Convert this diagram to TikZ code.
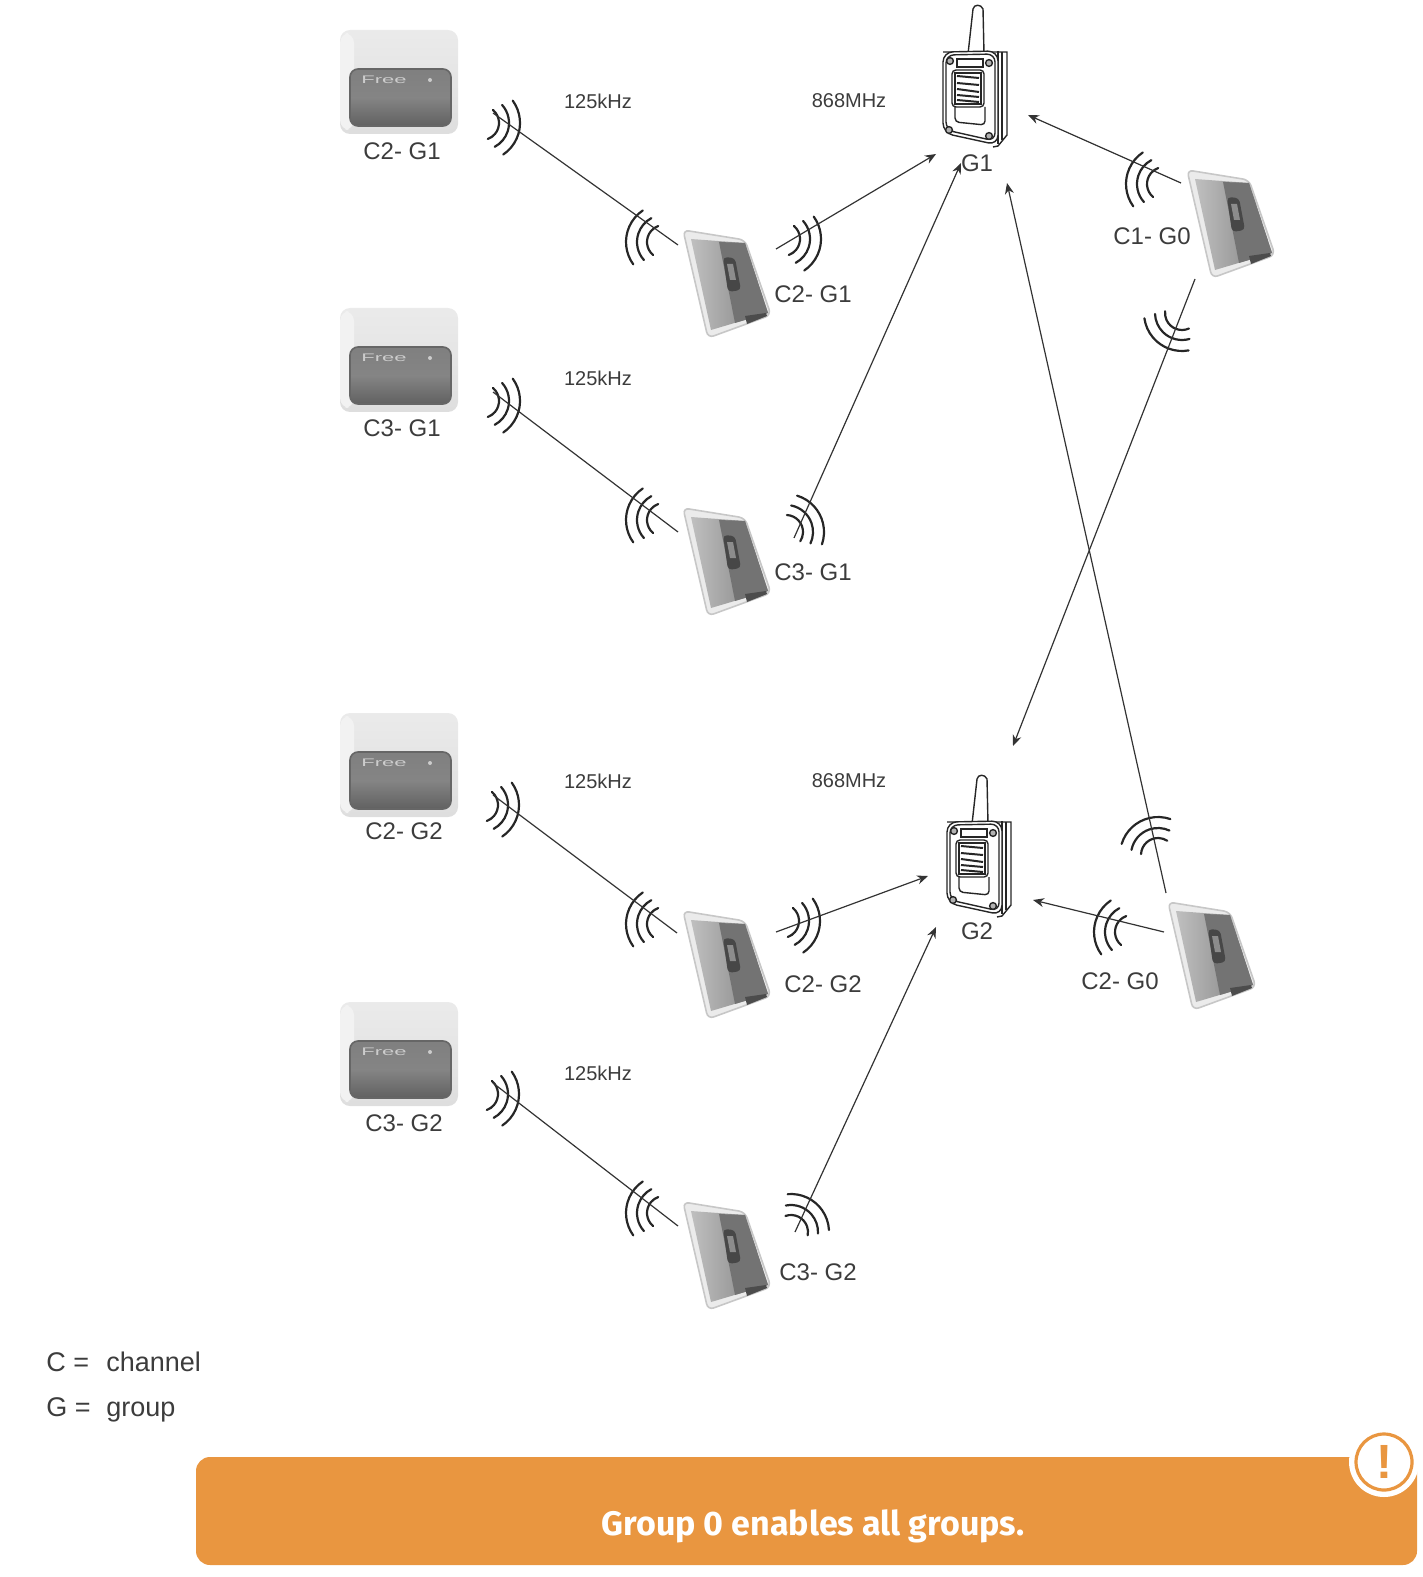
\documentclass[tikz,border=0pt]{standalone}
\usepackage{fontspec}
\setmainfont{Liberation Sans}
\newfontfamily\bannerfont{Fira Sans}
\usetikzlibrary{arrows, arrows.meta, shapes, positioning}

\definecolor{bannerorange}{HTML}{E99640}
\definecolor{inkgray}{HTML}{3C3C3C}

\tikzset{
    tag/.style={font=\fontsize{12}{14}\selectfont, text=inkgray, inner sep=0pt},
    freq/.style={font=\fontsize{10}{12}\selectfont, text=inkgray, inner sep=0pt},
    legend/.style={font=\fontsize{13.5}{16}\selectfont, text=inkgray, inner sep=0pt, anchor=base west},
    link/.style={draw=black!80, line width=0.6pt},
    arrowlink/.style={link, -{Stealth[length=5.5pt, width=4.5pt]}},
    wave/.style={draw=black!85, line width=1.1pt, line cap=round},
    outline/.style={draw=black!85, line width=0.7pt},
    keypad/.pic={
        \shade[rounded corners=5pt, top color=black!8, bottom color=black!13] (0,0) rectangle (118,-104);
        \fill[rounded corners=5pt, black!5] (0,-3) rectangle (14,-100);
        \shade[rounded corners=4pt, top color=black!50, bottom color=black!62, middle color=black!48, draw=black!60, line width=0.8pt] (10,-39) rectangle (111,-96);
        \node[text=black!20, font=\fontsize{5.5}{6}\selectfont, xscale=2, inner sep=0pt] (-logo) at (44,-50) {Free};
        \fill[black!20] (90,-50) circle (1pt);
    },
    receiver/.pic={
        \filldraw[rounded corners=3pt, fill=black!8, draw=black!22, line width=0.8pt] (0,0) -- (62,-10) -- (88,-85) -- (25,-108) -- cycle;
        \shade[left color=black!25, right color=black!50] (8,-9) -- (62,-13) -- (85,-83) -- (28,-100) -- cycle;
        \fill[black!55] (36,-12) -- (62,-13) -- (85,-83) -- (52,-93) -- cycle;
        \fill[black!70] (62,-86) -- (83,-83) -- (84,-86) -- (64,-94) -- cycle;
        \fill[rounded corners=2pt, black!72] (40,-27) -- (52,-28) -- (58,-60) -- (45,-62) -- cycle;
        \fill[black!45] (44,-34) -- (50,-34) -- (53,-50) -- (47,-50) -- cycle;
    },
    waves/.pic={
        \draw[wave] (46:19pt) arc [start angle=46, end angle=-46, radius=19pt];
        \draw[wave] (52:13.5pt) arc [start angle=52, end angle=-52, radius=13.5pt];
        \draw[wave] (60:8.5pt) arc [start angle=60, end angle=-60, radius=8.5pt];
    },
    gateway/.pic={
        % antenna
        \draw[outline, fill=white] (25,-2) -- (30,43) .. controls (31,48) and (38,48) .. (40,43) -- (41,-2);
        % back edge of the case
        \draw[outline] (0,0) -- (64,0) -- (64,-83) -- (55,-94) -- (50,-95);
        \draw[outline] (55,1) -- (55,-92);
        \draw[outline] (59,0) -- (59,-88);
        % front of the case
        \draw[outline, rounded corners=5pt, fill=white] (0,0) -- (55,1) -- (55,-93) -- (0,-81) -- cycle;
        \draw[outline, rounded corners=4pt] (3,-3) -- (52,-2) -- (52,-89) -- (3,-78) -- cycle;
        \filldraw[outline, fill=gray!60] (7,-9) circle (1.7pt);
        \filldraw[outline, fill=gray!60] (46,-11) circle (1.7pt);
        \filldraw[outline, fill=gray!60] (6,-78) circle (1.7pt);
        \filldraw[outline, fill=gray!60] (46,-84) circle (1.7pt);
        % slot, grille and window
        \draw[outline] (14,-7) rectangle (40,-15);
        \draw[outline, rounded corners=2pt] (9,-18) rectangle (41,-55);
        \draw[outline] (12,-21) rectangle (38,-52);
        \draw[black!85, line width=1pt] (14,-24) -- (36,-26);
        \draw[black!85, line width=1pt] (14,-31) -- (36,-33);
        \draw[black!85, line width=1pt] (14,-37) -- (36,-40);
        \draw[black!85, line width=1pt] (14,-43) -- (36,-45);
        \draw[black!85, line width=1pt] (14,-48) -- (36,-50);
        \draw[outline, rounded corners=2pt] (12,-55) -- (12,-70) -- (42,-73) -- (42,-55);
    },
}

\begin{document}
\begin{tikzpicture}[x=0.5pt, y=0.5pt]
    \useasboundingbox (0,0) rectangle (1422,-1577);

    % first row, C2 G1
    \pic (pa) at (340,-30) {keypad};
    \node[tag] (pat) at (402,-151) {C2- G1};
    \node[freq] (fa) at (598,-101) {125kHz};
    \pic (wa) [rotate=-10] at (482,-123) {waves};
    \pic (wb) [rotate=170] at (664,-242) {waves};
    \pic (ra) at (683,-230) {receiver};
    \node[tag] (rat) at (813,-294) {C2- G1};
    \pic (wc) [rotate=-10] at (783,-239) {waves};
    \coordinate (a1) at (493,-113);
    \coordinate (a2) at (678,-245);
    \coordinate (a3) at (776,-249);
    \coordinate (a4) at (936,-154);
    \draw[link] (a1) -- (a2);
    \draw[arrowlink] (a3) -- (a4);

    % second row, C3 G1
    \pic (pb) at (340,-308) {keypad};
    \node[tag] (pbt) at (402,-428) {C3- G1};
    \node[freq] (fb) at (598,-378) {125kHz};
    \pic (wd) [rotate=-10] at (482,-401) {waves};
    \pic (we) [rotate=170] at (664,-520) {waves};
    \pic (rb) at (683,-508) {receiver};
    \node[tag] (rbt) at (813,-572) {C3- G1};
    \pic (wf) [rotate=27] at (786,-532) {waves};
    \coordinate (b1) at (493,-392);
    \coordinate (b2) at (678,-532);
    \coordinate (b3) at (794,-538);
    \coordinate (b4) at (961,-163);
    \draw[link] (b1) -- (b2);
    \draw[arrowlink] (b3) -- (b4);

    % third row, C2 G2
    \pic (pc) at (340,-713) {keypad};
    \node[tag] (pct) at (404,-831) {C2- G2};
    \node[freq] (fc) at (598,-781) {125kHz};
    \pic (wg) [rotate=-10] at (481,-805) {waves};
    \pic (wh) [rotate=170] at (664,-924) {waves};
    \pic (rc) at (683,-911) {receiver};
    \node[tag] (rct) at (823,-984) {C2- G2};
    \pic (wi) [rotate=-10] at (782,-921) {waves};
    \coordinate (c1) at (493,-795);
    \coordinate (c2) at (677,-933);
    \coordinate (c3) at (776,-932);
    \coordinate (c4) at (928,-876);
    \draw[link] (c1) -- (c2);
    \draw[arrowlink] (c3) -- (c4);

    % fourth row, C3 G2
    \pic (pd) at (340,-1002) {keypad};
    \node[tag] (pdt) at (404,-1123) {C3- G2};
    \node[freq] (fd) at (598,-1073) {125kHz};
    \pic (wj) [rotate=-10] at (481,-1094) {waves};
    \pic (wk) [rotate=170] at (664,-1213) {waves};
    \pic (rd) at (683,-1202) {receiver};
    \node[tag] (rdt) at (818,-1272) {C3- G2};
    \pic (wl) [rotate=49] at (791,-1232) {waves};
    \coordinate (d1) at (493,-1083);
    \coordinate (d2) at (678,-1226);
    \coordinate (d3) at (795,-1232);
    \coordinate (d4) at (936,-927);
    \draw[link] (d1) -- (d2);
    \draw[arrowlink] (d3) -- (d4);

    % gateways
    \pic (ga) at (943,-52) {gateway};
    \node[tag] (gat) at (977,-163) {G1};
    \node[freq] (fe) at (849,-101) {868MHz};
    \pic (gb) at (947,-822) {gateway};
    \node[tag] (gbt) at (977,-931) {G2};
    \node[freq] (ff) at (849,-781) {868MHz};

    % group 0 receivers
    \pic (re) at (1187,-170) {receiver};
    \node[tag] (ret) at (1152,-236) {C1- G0};
    \pic (wm) [rotate=170] at (1164,-184) {waves};
    \pic (wn) [rotate=234] at (1182,-313) {waves};
    \pic (rf) at (1168,-902) {receiver};
    \node[tag] (rft) at (1120,-981) {C2- G0};
    \pic (wo) [rotate=117] at (1158,-855) {waves};
    \pic (wp) [rotate=170] at (1132,-932) {waves};

    \coordinate (e1) at (1181,-183);
    \coordinate (e2) at (1028,-115);
    \coordinate (e3) at (1195,-279);
    \coordinate (e4) at (1013,-746);
    \coordinate (f1) at (1166,-893);
    \coordinate (f2) at (1007,-183);
    \coordinate (f3) at (1164,-932);
    \coordinate (f4) at (1033,-900);
    \draw[arrowlink] (e1) -- (e2);
    \draw[arrowlink] (e3) -- (e4);
    \draw[arrowlink] (f1) -- (f2);
    \draw[arrowlink] (f3) -- (f4);

    % legend
    \node[legend] (lc) at (46,-1371.5) {C =};
    \node[legend] (lcn) at (106,-1371.5) {channel};
    \node[legend] (lg) at (46,-1416.5) {G =};
    \node[legend] (lgn) at (106,-1416.5) {group};

    % banner
    \fill[bannerorange, rounded corners=7pt] (196,-1457) rectangle (1417,-1565);
    \node[text=white, inner sep=0pt, font=\bannerfont\bfseries\fontsize{17}{20}\selectfont] (bt) at (813,-1526) {Group 0 enables all groups.};
    \fill[white] (1384,-1462) circle (17.5pt);
    \draw[bannerorange, line width=1.6pt] (1384,-1462) circle (14pt);
    \node[text=bannerorange, inner sep=0pt, font=\bfseries\fontsize{24}{24}\selectfont] (bi) at (1384,-1462) {!};
\end{tikzpicture}
\end{document}
